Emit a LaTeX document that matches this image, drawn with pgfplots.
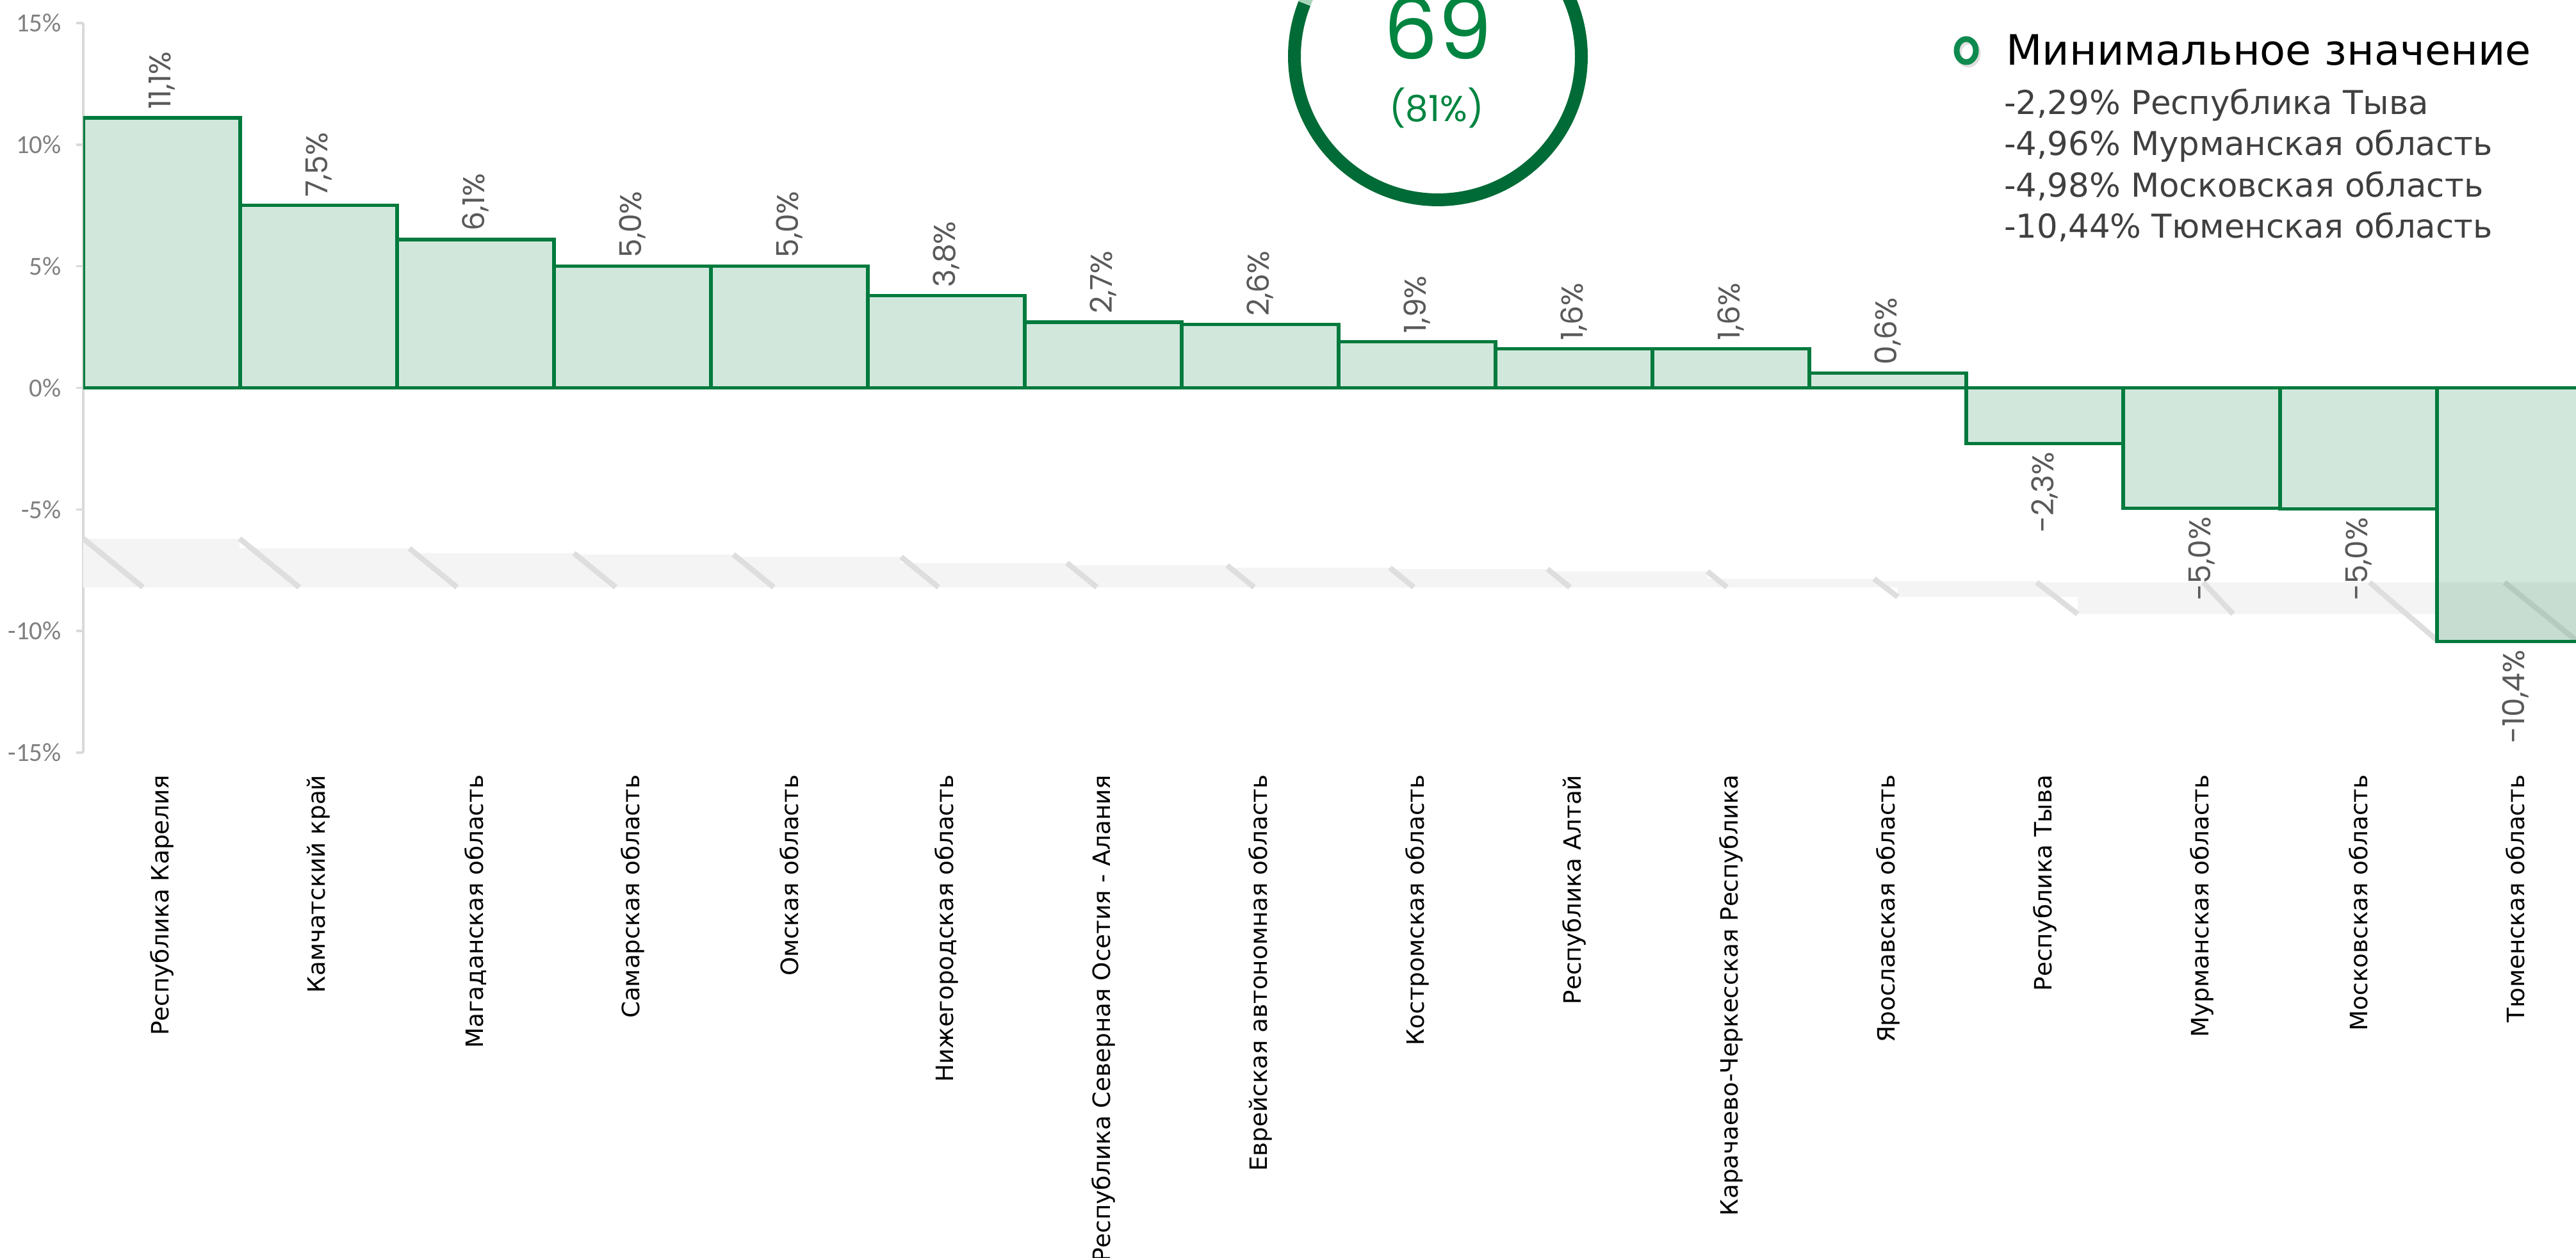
\documentclass[border=0pt]{standalone}
\usepackage{fontspec}
\setmainfont{DejaVu Sans}
\newfontfamily\carlito{Carlito}
\newfontfamily\pop{Poppins}
\usepackage{pgfplots}
\pgfplotsset{compat=1.18}
\pgfkeys{/pgf/number format/assume math mode=true}
\definecolor{barg}{HTML}{007A3D}
\definecolor{ringdark}{HTML}{006B36}
\definecolor{ringlight}{HTML}{A8D5B9}
\definecolor{numg}{HTML}{00843F}
\definecolor{legg}{HTML}{0E8A4F}
\definecolor{valgray}{HTML}{595959}
\definecolor{tickgray}{HTML}{7F7F7F}
\definecolor{axgray}{HTML}{D9D9D9}
\definecolor{listgray}{HTML}{404040}
\definecolor{shadowc}{HTML}{F4F4F4}
\definecolor{shadowline}{HTML}{DEDEDE}
\begin{document}
\begin{tikzpicture}
\useasboundingbox (0,0) rectangle (20.11,9.82);
\clip (0,0) rectangle (20.11,9.82);
\begin{axis}[
  scale only axis, width=19.6cm, height=5.695cm,
  at={(0.65cm,3.945cm)}, anchor=south west,
  xmin=-0.5, xmax=15.5, ymin=-15, ymax=15,
  axis lines*=left, axis line style={-},
  x axis line style={draw=none},
  y axis line style={draw=axgray, line width=0.5pt},
  xtick={0,...,15},
  xticklabels={Республика Карелия, Камчатский край, Магаданская область, Самарская область, Омская область, Нижегородская область, Республика Северная Осетия - Алания, Еврейская автономная область, Костромская область, Республика Алтай, Карачаево-Черкесская Республика, Ярославская область, Республика Тыва, Мурманская область, Московская область, Тюменская область},
  xtick style={draw=none},
  ytick={-15,-10,...,15},
  ytick style={draw=axgray, line width=0.5pt},
  tick align=outside, major tick length=0.055cm,
  yticklabel={\pgfmathprintnumber{\tick}\%},
  yticklabel style={font=\carlito\fontsize{5.8}{6}\selectfont, text=tickgray, inner sep=0pt, xshift=-0.11cm},
  xticklabel style={rotate=90, anchor=east, font=\fontsize{5.3}{6}\selectfont, text=black, inner sep=3.2pt},
]
% faint floor shadow band
\addplot[fill=shadowc, draw=none, forget plot] coordinates {
 (-0.5,-6.2) (0.496,-6.2) (0.496,-6.6) (1.578,-6.6) (1.578,-6.8) (2.627,-6.8)
 (2.627,-6.85) (3.643,-6.85) (3.643,-6.95) (4.712,-6.95) (4.712,-7.2) (5.769,-7.2)
 (5.769,-7.3) (6.790,-7.3) (6.790,-7.4) (7.827,-7.4) (7.827,-7.45) (8.831,-7.45)
 (8.831,-7.55) (9.851,-7.55) (9.851,-7.85) (10.912,-7.85) (10.912,-7.95) (11.949,-7.95)
 (11.949,-8.0) (15.5,-8.0) (15.5,-10.4) (14.504,-10.4) (14.504,-9.3) (12.21,-9.3)
 (12.21,-8.6) (11.063,-8.6) (11.063,-8.2) (-0.5,-8.2)};
\addplot[draw=shadowline, line width=1.2pt, forget plot] coordinates {(-0.5,-6.2) (-0.12,-8.2)};
\addplot[draw=shadowline, line width=1.2pt, forget plot] coordinates {(0.496,-6.2) (0.876,-8.2)};
\addplot[draw=shadowline, line width=1.2pt, forget plot] coordinates {(1.578,-6.6) (1.882,-8.2)};
\addplot[draw=shadowline, line width=1.2pt, forget plot] coordinates {(2.627,-6.8) (2.893,-8.2)};
\addplot[draw=shadowline, line width=1.2pt, forget plot] coordinates {(3.643,-6.85) (3.900,-8.2)};
\addplot[draw=shadowline, line width=1.2pt, forget plot] coordinates {(4.712,-6.95) (4.950,-8.2)};
\addplot[draw=shadowline, line width=1.2pt, forget plot] coordinates {(5.769,-7.2) (5.959,-8.2)};
\addplot[draw=shadowline, line width=1.2pt, forget plot] coordinates {(6.790,-7.3) (6.961,-8.2)};
\addplot[draw=shadowline, line width=1.2pt, forget plot] coordinates {(7.827,-7.4) (7.979,-8.2)};
\addplot[draw=shadowline, line width=1.2pt, forget plot] coordinates {(8.831,-7.45) (8.974,-8.2)};
\addplot[draw=shadowline, line width=1.2pt, forget plot] coordinates {(9.851,-7.55) (9.975,-8.2)};
\addplot[draw=shadowline, line width=1.2pt, forget plot] coordinates {(10.912,-7.85) (11.063,-8.6)};
\addplot[draw=shadowline, line width=1.2pt, forget plot] coordinates {(11.949,-8.0) (12.21,-9.3)};
\addplot[draw=shadowline, line width=1.2pt, forget plot] coordinates {(13.01,-8.0) (13.2,-9.3)};
\addplot[draw=shadowline, line width=1.2pt, forget plot] coordinates {(14.07,-8.0) (14.504,-10.4)};
\addplot[draw=shadowline, line width=1.2pt, forget plot] coordinates {(14.93,-8.0) (15.39,-10.4)};
% bars
\addplot[ybar, bar width=1, bar shift=0pt, fill=barg, fill opacity=0.18, draw=barg, line width=0.75pt,
  nodes near coords={\pgfmathprintnumber[fixed,fixed zerofill,precision=1,use comma]{\pgfplotspointmeta}\%},
  nodes near coords align={anchor=west},
  every node near coord/.append style={rotate=90, anchor=west, font=\pop\fontsize{6.7}{7}\selectfont, text=valgray, inner sep=1.5pt, text opacity=1}]
 coordinates {(0,11.1) (1,7.5) (2,6.1) (3,5.0) (4,5.0) (5,3.8) (6,2.7) (7,2.6) (8,1.9) (9,1.6) (10,1.6) (11,0.6)};
\addplot[ybar, bar width=1, bar shift=0pt, fill=barg, fill opacity=0.18, draw=barg, line width=0.75pt,
  nodes near coords={\pgfmathprintnumber[fixed,fixed zerofill,precision=1,use comma]{\pgfplotspointmeta}\%},
  nodes near coords align={anchor=east},
  every node near coord/.append style={rotate=90, anchor=east, font=\pop\fontsize{6.7}{7}\selectfont, text=valgray, inner sep=1.5pt, text opacity=1}]
 coordinates {(12,-2.29) (13,-4.96) (14,-4.98) (15,-10.44)};
\end{axis}
% KPI ring
\draw[ringdark, line width=0.1cm] (11.225,9.38) ++(90:1.12) arc[start angle=90, end angle=-201.6, radius=1.12cm];
\draw[ringlight, line width=0.1cm] (11.225,9.38) ++(158.4:1.12) arc[start angle=158.4, end angle=90, radius=1.12cm];
\node[anchor=base, text=numg, font=\pop\fontsize{19}{20}\selectfont, inner sep=0pt] at (11.225,9.355) {69};
\node[anchor=base, text=numg, font=\pop\fontsize{8}{9}\selectfont, inner sep=0pt] at (11.215,8.87) {(81\%)};
% legend
\draw[gray!25, line width=0.045cm] (15.365,9.405) ellipse (0.075 and 0.09);
\draw[legg, line width=0.045cm] (15.35,9.425) ellipse (0.075 and 0.09);
\node[anchor=base west, inner sep=0pt, font=\fontsize{9.3}{10}\selectfont, text=black] at (15.655,9.31) {Минимальное значение};
\node[anchor=base west, inner sep=0pt, font=\fontsize{7.3}{8}\selectfont, text=listgray] at (15.64,8.925) {-2,29\% Республика Тыва};
\node[anchor=base west, inner sep=0pt, font=\fontsize{7.3}{8}\selectfont, text=listgray] at (15.64,8.605) {-4,96\% Мурманская область};
\node[anchor=base west, inner sep=0pt, font=\fontsize{7.3}{8}\selectfont, text=listgray] at (15.64,8.28) {-4,98\% Московская область};
\node[anchor=base west, inner sep=0pt, font=\fontsize{7.3}{8}\selectfont, text=listgray] at (15.64,7.96) {-10,44\% Тюменская область};
\end{tikzpicture}
\end{document}
